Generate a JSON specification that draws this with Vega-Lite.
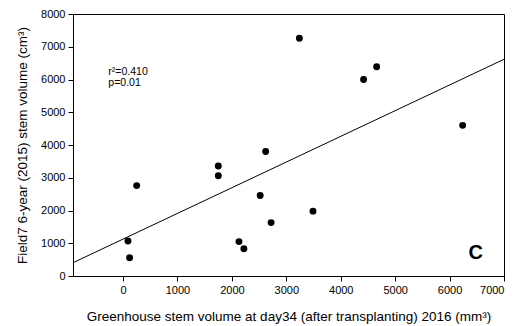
{
  "$schema": "https://vega.github.io/schema/vega-lite/v6.json",
  "autosize": "none",
  "width": 431,
  "height": 262,
  "padding": {"left": 73, "top": 14, "right": 11, "bottom": 50},
  "background": "white",
  "config": {
    "view": {"stroke": "#000", "strokeWidth": 1},
    "font": "Liberation Sans",
    "axis": {
      "grid": false,
      "domainColor": "#000",
      "tickColor": "#000",
      "labelColor": "#000",
      "titleColor": "#000",
      "labelFont": "Liberation Sans",
      "titleFont": "Liberation Sans",
      "titleFontWeight": "normal",
      "labelFontSize": 11,
      "titleFontSize": 13.5,
      "tickSize": 5,
      "labelPadding": 3,
      "labelOverlap": false
    }
  },
  "datasets": {
    "pts": [
      {"gh": 90, "field": 1070},
      {"gh": 120, "field": 560},
      {"gh": 250, "field": 2760},
      {"gh": 1750, "field": 3360},
      {"gh": 1750, "field": 3060},
      {"gh": 2130, "field": 1050},
      {"gh": 2220, "field": 830},
      {"gh": 2520, "field": 2460},
      {"gh": 2620, "field": 3800},
      {"gh": 2720, "field": 1630},
      {"gh": 3490, "field": 1980},
      {"gh": 3240, "field": 7260},
      {"gh": 4420, "field": 6000},
      {"gh": 4660, "field": 6390},
      {"gh": 6240, "field": 4600}
    ],
    "fit": [
      {"gh": -920, "field": 406},
      {"gh": 7000, "field": 6617}
    ],
    "notes": [
      {"gh": -270, "field": 6230, "label": "r²=0.410"},
      {"gh": -270, "field": 5890, "label": "p=0.01"}
    ],
    "panel": [
      {"gh": 6480, "field": 700, "label": "C"}
    ]
  },
  "encoding": {
    "x": {
      "field": "gh", "type": "quantitative",
      "scale": {"domain": [-920, 7000], "nice": false, "zero": false},
      "axis": {"values": [0, 1000, 2000, 3000, 4000, 5000, 6000, 7000], "title": "Greenhouse stem volume at day34 (after transplanting) 2016 (mm³)", "titlePadding": 14, "format": "d"}
    },
    "y": {
      "field": "field", "type": "quantitative",
      "scale": {"domain": [0, 8000], "nice": false},
      "axis": {"values": [0, 1000, 2000, 3000, 4000, 5000, 6000, 7000, 8000], "title": "Field7 6-year (2015) stem volume (cm³)", "titlePadding": 11, "format": "d", "labelOverlap": false}
    }
  },
  "layer": [
    {
      "data": {"name": "fit"},
      "mark": {"type": "line", "color": "#000", "strokeWidth": 1, "clip": true}
    },
    {
      "data": {"name": "pts"},
      "mark": {"type": "circle", "color": "#000", "opacity": 1, "size": 48}
    },
    {
      "data": {"name": "notes"},
      "mark": {"type": "text", "align": "left", "baseline": "middle", "fontSize": 10.5, "color": "#000"},
      "encoding": {
        "text": {"field": "label"}
      }
    },
    {
      "data": {"name": "panel"},
      "mark": {"type": "text", "align": "center", "baseline": "middle", "fontSize": 20, "fontWeight": "bold", "color": "#000"},
      "encoding": {
        "text": {"field": "label"}
      }
    }
  ]
}
